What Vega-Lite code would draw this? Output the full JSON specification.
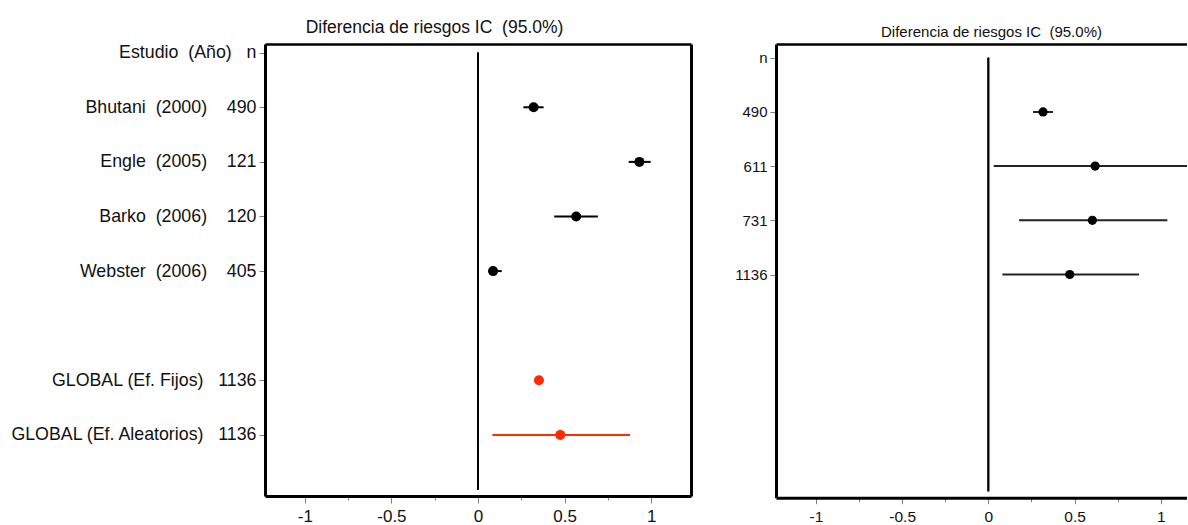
{
  "$schema": "https://vega.github.io/schema/vega-lite/v6.json",
  "padding": {"left": 9, "top": 18, "right": 0, "bottom": 0},
  "background": "white",
  "config": {
    "view": {"stroke": null},
    "axis": {"grid": false},
    "font": "Liberation Sans"
  },
  "datasets": {
    "izq": [
      {"etiqueta": "Bhutani\u00a0\u00a0(2000)\u00a0\u00a0\u00a0\u00a0490", "estudio": "Bhutani", "anio": 2000, "n": 490, "rd": 0.321, "li": 0.262, "ls": 0.379, "tipo": "estudio"},
      {"etiqueta": "Engle\u00a0\u00a0(2005)\u00a0\u00a0\u00a0\u00a0121", "estudio": "Engle", "anio": 2005, "n": 121, "rd": 0.932, "li": 0.870, "ls": 0.997, "tipo": "estudio"},
      {"etiqueta": "Barko\u00a0\u00a0(2006)\u00a0\u00a0\u00a0\u00a0120", "estudio": "Barko", "anio": 2006, "n": 120, "rd": 0.567, "li": 0.440, "ls": 0.692, "tipo": "estudio"},
      {"etiqueta": "Webster\u00a0\u00a0(2006)\u00a0\u00a0\u00a0\u00a0405", "estudio": "Webster", "anio": 2006, "n": 405, "rd": 0.087, "li": 0.060, "ls": 0.137, "tipo": "estudio"},
      {"etiqueta": "GLOBAL (Ef. Fijos)\u00a0\u00a0\u00a01136", "estudio": "GLOBAL (Ef. Fijos)", "anio": null, "n": 1136, "rd": 0.352, "li": 0.334, "ls": 0.370, "tipo": "global"},
      {"etiqueta": "GLOBAL (Ef. Aleatorios)\u00a0\u00a0\u00a01136", "estudio": "GLOBAL (Ef. Aleatorios)", "anio": null, "n": 1136, "rd": 0.475, "li": 0.083, "ls": 0.878, "tipo": "global"}
    ],
    "der": [
      {"etiqueta": "490", "n": 490, "rd": 0.317, "li": 0.259, "ls": 0.375, "tipo": "estudio"},
      {"etiqueta": "611", "n": 611, "rd": 0.619, "li": 0.031, "ls": 1.207, "tipo": "estudio"},
      {"etiqueta": "731", "n": 731, "rd": 0.603, "li": 0.178, "ls": 1.038, "tipo": "estudio"},
      {"etiqueta": "1136", "n": 1136, "rd": 0.472, "li": 0.081, "ls": 0.874, "tipo": "estudio"}
    ]
  },
  "hconcat": [
    {
      "width": 426,
      "height": 452,
      "data": {"name": "izq"},
      "resolve": {"axis": {"x": "independent", "y": "independent"}},
      "layer": [
        {
          "mark": {"type": "rule", "strokeWidth": 2},
          "encoding": {
            "x": {
              "field": "li", "type": "quantitative",
              "scale": {"domain": [-1.23, 1.23], "nice": false, "zero": false},
              "axis": {
                "orient": "bottom", "title": null,
                "values": [-1, -0.75, -0.5, -0.25, 0, 0.25, 0.5, 0.75, 1],
                "labelExpr": "abs(datum.value*2-round(datum.value*2))>0.01 ? '' : '' + datum.value",
                "tickSize": {"condition": {"test": "abs(datum.value*2-round(datum.value*2))>0.01", "value": 4}, "value": 7},
                "tickColor": "#808080", "tickWidth": 1,
                "labelFontSize": 17, "labelColor": "#111111", "labelPadding": 5,
                "domainColor": "#000000", "domainWidth": 3
              }
            },
            "x2": {"field": "ls"},
            "y": {
              "field": "etiqueta", "type": "nominal",
              "scale": {
                "type": "point",
                "domain": [
                  "Estudio\u00a0\u00a0(Año)\u00a0\u00a0\u00a0n\u00a0",
                  "Bhutani\u00a0\u00a0(2000)\u00a0\u00a0\u00a0\u00a0490",
                  "Engle\u00a0\u00a0(2005)\u00a0\u00a0\u00a0\u00a0121",
                  "Barko\u00a0\u00a0(2006)\u00a0\u00a0\u00a0\u00a0120",
                  "Webster\u00a0\u00a0(2006)\u00a0\u00a0\u00a0\u00a0405",
                  "_hueco",
                  "GLOBAL (Ef. Fijos)\u00a0\u00a0\u00a01136",
                  "GLOBAL (Ef. Aleatorios)\u00a0\u00a0\u00a01136",
                  "_fin"
                ],
                "padding": 0.139, "align": 0.572
              },
              "axis": {
                "orient": "left", "title": null,
                "values": [
                  "Estudio\u00a0\u00a0(Año)\u00a0\u00a0\u00a0n\u00a0",
                  "Bhutani\u00a0\u00a0(2000)\u00a0\u00a0\u00a0\u00a0490",
                  "Engle\u00a0\u00a0(2005)\u00a0\u00a0\u00a0\u00a0121",
                  "Barko\u00a0\u00a0(2006)\u00a0\u00a0\u00a0\u00a0120",
                  "Webster\u00a0\u00a0(2006)\u00a0\u00a0\u00a0\u00a0405",
                  "GLOBAL (Ef. Fijos)\u00a0\u00a0\u00a01136",
                  "GLOBAL (Ef. Aleatorios)\u00a0\u00a0\u00a01136"
                ],
                "labelFontSize": 17.8, "labelColor": "#111111", "labelLimit": 500,
                "labelPadding": 3, "tickSize": 6, "tickColor": "#808080", "tickWidth": 1,
                "domainColor": "#000000", "domainWidth": 3
              }
            },
            "color": {
              "field": "tipo", "type": "nominal",
              "scale": {"domain": ["estudio", "global"], "range": ["#000000", "#ff2a00"]},
              "legend": null
            }
          }
        },
        {
          "mark": {"type": "circle", "size": 100, "opacity": 1},
          "encoding": {
            "x": {"field": "rd", "type": "quantitative", "scale": {"domain": [-1.23, 1.23], "nice": false, "zero": false}, "axis": null},
            "y": {"field": "etiqueta", "type": "nominal", "axis": null},
            "color": {
              "field": "tipo", "type": "nominal",
              "scale": {"domain": ["estudio", "global"], "range": ["#000000", "#ff2a00"]},
              "legend": null
            }
          }
        },
        {
          "mark": {"type": "rule", "color": "#000000", "strokeWidth": 1.5},
          "encoding": {
            "x": {
              "datum": 0, "type": "quantitative",
              "scale": {"domain": [-1.23, 1.23], "nice": false, "zero": false},
              "axis": {
                "orient": "top", "labels": false, "ticks": false,
                "domainColor": "#000000", "domainWidth": 2.5,
                "title": "Diferencia de riesgos IC\u00a0\u00a0(95.0%)",
                "titleFontSize": 17.5, "titleFontWeight": "normal", "titleColor": "#111111",
                "titleX": 169, "titleY": -11.3, "titleAlign": "center", "titleBaseline": "alphabetic"
              }
            },
            "y": {
              "datum": "Estudio\u00a0\u00a0(Año)\u00a0\u00a0\u00a0n\u00a0", "type": "nominal",
              "axis": {"orient": "right", "labels": false, "ticks": false, "title": null, "domainColor": "#000000", "domainWidth": 3}
            },
            "y2": {"datum": "_fin"}
          }
        }
      ]
    },
    {
      "width": 411,
      "height": 453.7,
      "data": {"name": "der"},
      "resolve": {"axis": {"x": "independent", "y": "independent"}},
      "layer": [
        {
          "mark": {"type": "rule", "strokeWidth": 2, "clip": true, "color": "#222222"},
          "encoding": {
            "x": {
              "field": "li", "type": "quantitative",
              "scale": {"domain": [-1.232, 1.152], "nice": false, "zero": false},
              "axis": {
                "orient": "bottom", "title": null,
                "values": [-1, -0.75, -0.5, -0.25, 0, 0.25, 0.5, 0.75, 1],
                "labelExpr": "abs(datum.value*2-round(datum.value*2))>0.01 ? '' : '' + datum.value",
                "tickSize": {"condition": {"test": "abs(datum.value*2-round(datum.value*2))>0.01", "value": 4}, "value": 6},
                "tickColor": "#808080", "tickWidth": 1,
                "labelFontSize": 15.5, "labelColor": "#111111", "labelPadding": 6,
                "domainColor": "#000000", "domainWidth": 3
              }
            },
            "x2": {"field": "ls"},
            "y": {
              "field": "etiqueta", "type": "nominal",
              "scale": {
                "type": "point",
                "domain": ["n", "490", "611", "731", "1136", "_5", "_6", "_7", "_8"],
                "padding": 0.1855, "align": 0.682
              },
              "axis": {
                "orient": "left", "title": null,
                "values": ["n", "490", "611", "731", "1136"],
                "labelFontSize": 15, "labelColor": "#111111",
                "labelPadding": 3, "tickSize": 6, "tickColor": "#808080", "tickWidth": 1,
                "domainColor": "#000000", "domainWidth": 3
              }
            }
          }
        },
        {
          "mark": {"type": "circle", "size": 85, "opacity": 1, "color": "#000000"},
          "encoding": {
            "x": {"field": "rd", "type": "quantitative", "scale": {"domain": [-1.232, 1.152], "nice": false, "zero": false}, "axis": null},
            "y": {"field": "etiqueta", "type": "nominal", "axis": null}
          }
        },
        {
          "mark": {"type": "rule", "color": "#000000", "strokeWidth": 1.5},
          "encoding": {
            "x": {
              "datum": 0, "type": "quantitative",
              "scale": {"domain": [-1.232, 1.152], "nice": false, "zero": false},
              "axis": {
                "orient": "top", "labels": false, "ticks": false,
                "domainColor": "#000000", "domainWidth": 2.5,
                "title": "Diferencia de riesgos IC\u00a0\u00a0(95.0%)",
                "titleFontSize": 15, "titleFontWeight": "normal", "titleColor": "#111111",
                "titleX": 215, "titleY": -8, "titleAlign": "center", "titleBaseline": "alphabetic"
              }
            },
            "y": {"datum": "n", "type": "nominal", "axis": null},
            "y2": {"datum": "_8"}
          }
        }
      ]
    }
  ],
  "spacing": 85,
  "bounds": "flush"
}
